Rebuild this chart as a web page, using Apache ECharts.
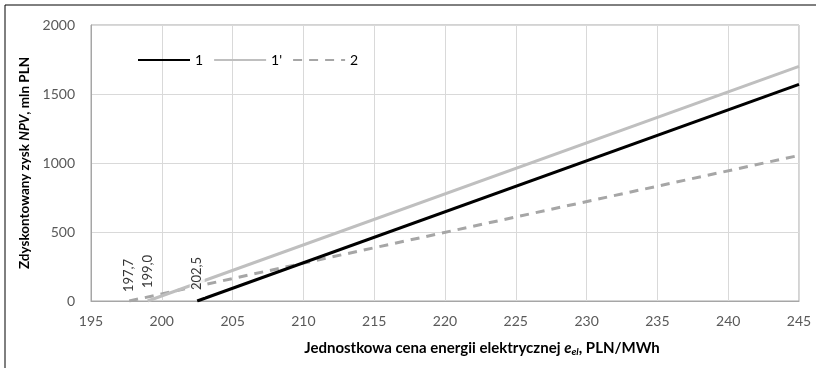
<!DOCTYPE html>
<html>
<head>
<meta charset="utf-8">
<script src="https://cdn.jsdelivr.net/npm/echarts@6/dist/echarts.min.js"></script>
<style>
  html, body { margin: 0; padding: 0; background: #fff; }
  #main { width: 816px; height: 368px; }
</style>
</head>
<body>
<div id="main"></div>
<script>
// price e_el, PLN/MWh (break-even point, end of range)
const xLine1 = [202.5, 245];
const yLine1 = [0, 1570];
const xLine1p = [199.0, 245];
const yLine1p = [0, 1700];
const xLine2 = [197.7, 245];
const yLine2 = [0, 1055];
const seriesNames = ['1', "1'", '2'];
// break-even labels
const zeroX = [197.7, 199.0, 202.5];
const zeroLabels = ['197,7', '199,0', '202,5'];

const FONT = 'Lato, "Open Sans", sans-serif';

function pts(xs, ys) {
  return xs.map((x, i) => [x, ys[i]]);
}

const chart = echarts.init(document.getElementById('main'));

const option = {
  backgroundColor: '#fff',
  animation: false,
  textStyle: { fontFamily: FONT },
  graphic: [
    {
      type: 'rect',
      shape: { x: 5, y: 5, width: 830, height: 380 },
      style: { fill: 'none', stroke: '#000', lineWidth: 1 },
      silent: true,
    },
  ],
  grid: {
    left: 91,
    right: 17,
    top: 25,
    bottom: 67,
    show: true,
    borderColor: '#a6a6a6',
    borderWidth: 1,
  },
  legend: {
    left: 132,
    top: 48,
    itemWidth: 52,
    itemHeight: 12,
    itemGap: 10,
    itemStyle: { opacity: 0 },
    textStyle: { fontFamily: FONT, fontSize: 14, color: '#000' },
    data: seriesNames,
  },
  xAxis: {
    type: 'value',
    min: 195,
    max: 245,
    interval: 5,
    name: '{b|Jednostkowa cena energii elektrycznej }{bi|e}{sub|el}{b|, PLN/MWh}',
    nameLocation: 'middle',
    nameGap: 39,
    nameTextStyle: {
      padding: [0, 0, 0, 74],
      rich: {
        b: { fontFamily: FONT, fontSize: 15, fontWeight: 'bold', color: '#000' },
        bi: { fontFamily: FONT, fontSize: 15, fontWeight: 'bold', fontStyle: 'italic', color: '#000' },
        sub: { fontFamily: FONT, fontSize: 10, fontWeight: 'bold', fontStyle: 'italic', color: '#000', verticalAlign: 'bottom', padding: [7, 0, 0, 0] },
      },
    },
    axisLine: { show: true, lineStyle: { color: '#a6a6a6' } },
    axisTick: { show: false },
    axisLabel: { color: '#595959', fontSize: 14, fontFamily: FONT, margin: 13, formatter: v => String(v) },
    splitLine: { show: true, lineStyle: { color: '#d9d9d9', width: 1 } },
  },
  yAxis: {
    type: 'value',
    min: 0,
    max: 2000,
    interval: 500,
    name: '{b|Zdyskontowany zysk }{bi|NPV}{b|, mln PLN}',
    nameLocation: 'middle',
    nameGap: 57,
    nameTextStyle: {
      rich: {
        b: { fontFamily: FONT, fontSize: 13.5, fontWeight: 'bold', color: '#000' },
        bi: { fontFamily: FONT, fontSize: 13.5, fontWeight: 'bold', fontStyle: 'italic', color: '#000' },
      },
    },
    axisLine: { show: true, lineStyle: { color: '#a6a6a6' } },
    axisTick: { show: false },
    axisLabel: { color: '#595959', fontSize: 14, fontFamily: FONT, margin: 16, formatter: v => String(v) },
    splitLine: { show: true, lineStyle: { color: '#d9d9d9', width: 1 } },
  },
  series: [
    {
      name: seriesNames[2],
      type: 'line',
      symbol: 'none',
      z: 2,
      lineStyle: { color: '#a6a6a6', width: 3, type: [9, 7] },
      itemStyle: { color: '#a6a6a6' },
      data: pts(xLine2, yLine2),
    },
    {
      name: seriesNames[1],
      type: 'line',
      symbol: 'none',
      z: 3,
      lineStyle: { color: '#bfbfbf', width: 3 },
      itemStyle: { color: '#bfbfbf' },
      data: pts(xLine1p, yLine1p),
    },
    {
      name: seriesNames[0],
      type: 'line',
      symbol: 'none',
      z: 4,
      lineStyle: { color: '#000', width: 3 },
      itemStyle: { color: '#000' },
      data: pts(xLine1, yLine1),
    },
    {
      name: 'labels',
      type: 'scatter',
      symbolSize: 0,
      z: 10,
      silent: true,
      data: zeroX.map((x, i) => ({
        value: [x, 0],
        label: i === 2
          ? { formatter: zeroLabels[i], offset: [2, 0], distance: 2, padding: [1, 1, 1, 7] }
          : { formatter: zeroLabels[i], offset: [[0, 4][i], 0] },
      })),
      label: {
        show: true,
        rotate: 90,
        position: 'top',
        distance: 8,
        align: 'left',
        verticalAlign: 'middle',
        color: '#000',
        fontFamily: FONT,
        fontSize: 13,
        backgroundColor: '#fff',
        padding: [1, 1, 1, 1],
      },
    },
  ],
};

chart.setOption(option);
</script>
</body>
</html>
